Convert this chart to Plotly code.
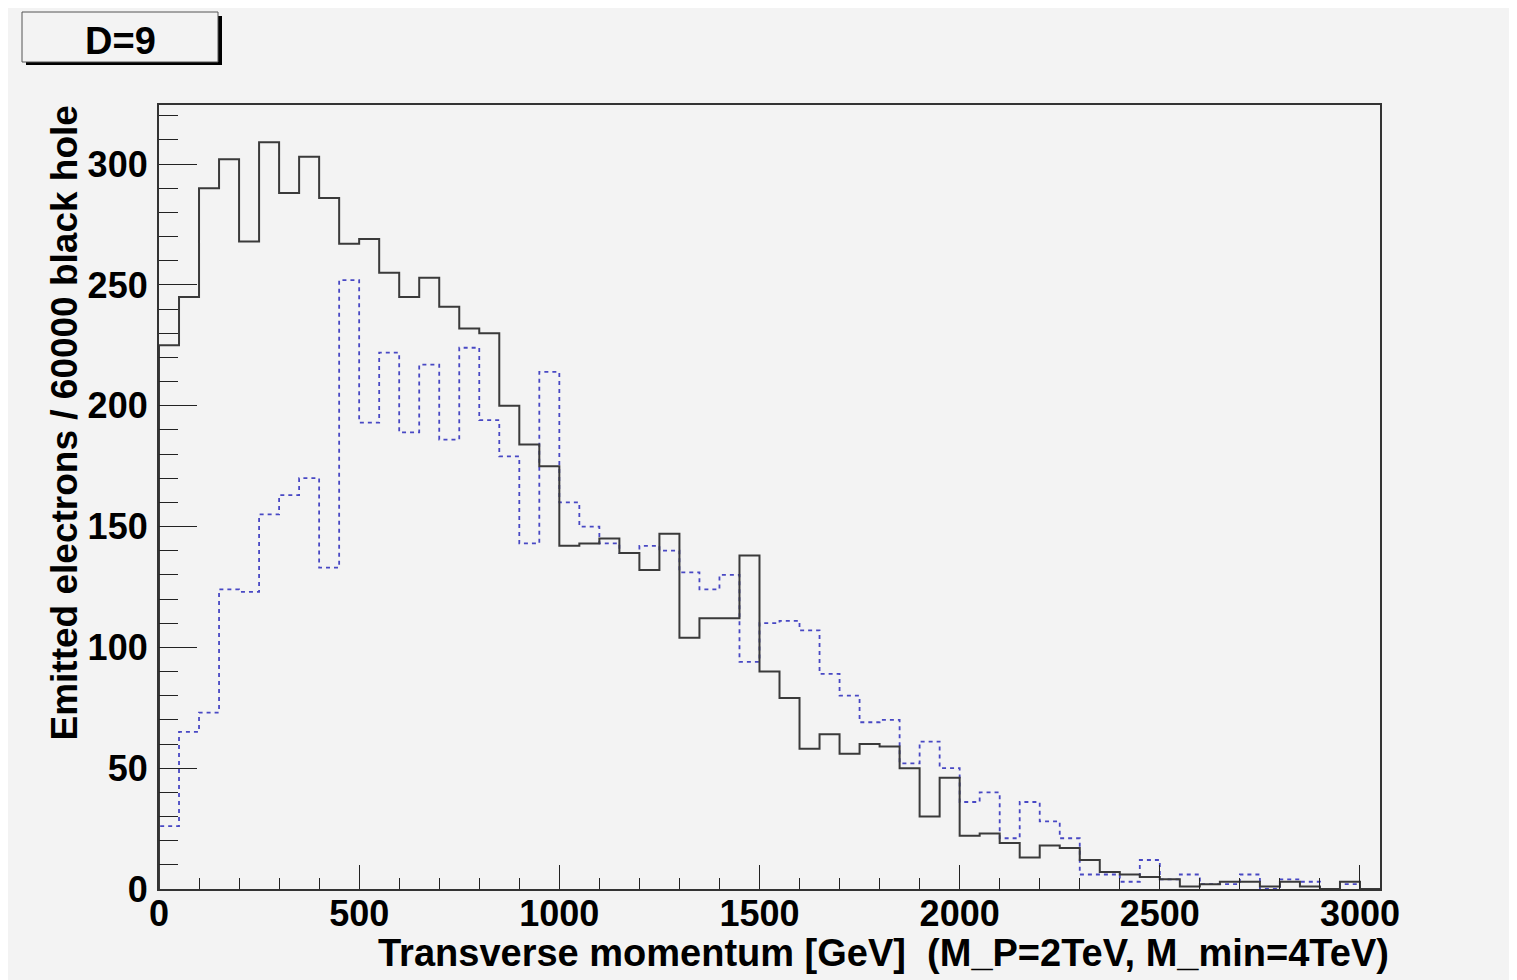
import numpy as np
import plotly.graph_objects as go

# ---- data (50 GeV bins, 0 .. 3050 GeV) ----
bin_width = 50
x_max = 3050
solid_counts = [225, 245, 290, 302, 268, 309, 288, 303, 286, 267,
                269, 255, 245, 253, 241, 232, 230, 200, 184, 175,
                142, 143, 145, 139, 132, 147, 104, 112, 112, 138,
                90, 79, 58, 64, 56, 60, 59, 50, 30, 46,
                22, 23, 19, 13, 18, 17, 12, 7, 6, 5,
                4, 1, 2, 3, 3, 1, 3, 1, 0, 3, 0]
dashed_counts = [26, 65, 73, 124, 123, 155, 163, 170, 133, 252,
                 193, 222, 189, 217, 186, 224, 194, 179, 143, 214,
                 160, 150, 143, 139, 142, 140, 131, 124, 130, 94,
                 110, 111, 107, 89, 80, 69, 70, 52, 61, 50,
                 36, 40, 21, 36, 28, 21, 6, 6, 3, 12,
                 4, 6, 2, 2, 6, 0, 4, 3, 0, 2, 0]
x_title = "Transverse momentum [GeV]\u00a0\u00a0(M_P=2TeV, M_min=4TeV)"
y_title = "Emitted electrons / 60000 black hole"
label_text = "D=9"

edges = np.arange(0, x_max + bin_width, bin_width)


def step_xy(counts):
    c = np.asarray(counts, dtype=float)
    xs = np.concatenate([[edges[0]], edges, [edges[-1]]])
    ys = np.concatenate([[0.0], c, [c[-1], 0.0]])
    return xs, ys


y_top = 1.05 * max(max(solid_counts), max(dashed_counts))

# page offset from default body margin
OFF = 8
W, H = 1517 - OFF, 980 - OFF
# plot area in page pixels
L, R, T, B = 159, 1380, 105, 889

fig = go.Figure()
xs, ys = step_xy(dashed_counts)
fig.add_trace(go.Scatter(x=xs, y=ys, mode="lines", line_shape="hv",
                         line=dict(color="#4848c4", width=1.8, dash="4px,4px"),
                         showlegend=False, hoverinfo="skip"))
xs, ys = step_xy(solid_counts)
fig.add_trace(go.Scatter(x=xs, y=ys, mode="lines", line_shape="hv",
                         line=dict(color="#3a3a3a", width=2),
                         showlegend=False, hoverinfo="skip"))

font_family = "Liberation Sans, Arial, Helvetica, sans-serif"
bg = "#f3f3f3"
tick_size = 36


def px_x(p):
    return (p - L) / (R - L)


def px_y(p):
    return (B - p) / (B - T)


fig.update_layout(
    width=W, height=H,
    margin=dict(l=L - OFF, r=W - (R - OFF), t=T - OFF, b=H - (B - OFF)),
    paper_bgcolor=bg, plot_bgcolor=bg,
    font=dict(family=font_family, size=tick_size, color="black"),
    xaxis=dict(range=[0, x_max], dtick=500, tick0=0,
               ticks="inside", ticklen=24, tickcolor="#222", tickwidth=1.3,
               minor=dict(dtick=100, ticks="inside", ticklen=11, tickcolor="#222", tickwidth=1.3),
               showline=True, linecolor="#333", linewidth=2.2, mirror=True,
               showgrid=False, zeroline=False,
               tickfont=dict(family=font_family, size=tick_size, color="black", weight="bold"),
               ticklabelstandoff=-8),
    yaxis=dict(range=[0, y_top], dtick=50, tick0=0,
               ticks="inside", ticklen=38, tickcolor="#222", tickwidth=1.3,
               minor=dict(dtick=10, ticks="inside", ticklen=19, tickcolor="#222", tickwidth=1.3),
               showline=True, linecolor="#333", linewidth=2.2, mirror=True,
               showgrid=False, zeroline=False,
               tickfont=dict(family=font_family, size=tick_size, color="black", weight="bold"),
               ticklabelstandoff=2),
)

# axis titles (ROOT style, right/top aligned)
fig.add_annotation(text=x_title, xref="paper", yref="paper",
                   x=px_x(1391), y=px_y(953), xanchor="right", yanchor="middle",
                   showarrow=False,
                   font=dict(family=font_family, size=38, color="black", weight="bold"))
fig.add_annotation(text=y_title, xref="paper", yref="paper",
                   x=px_x(64), y=px_y(104), xanchor="center", yanchor="top",
                   textangle=-90, showarrow=False,
                   font=dict(family=font_family, size=37, color="black", weight="bold"))

# label box with shadow
fig.add_shape(type="rect", xref="paper", yref="paper",
              x0=px_x(26), x1=px_x(222), y0=px_y(65), y1=px_y(16),
              fillcolor="black", line=dict(width=0), layer="above")
fig.add_shape(type="rect", xref="paper", yref="paper",
              x0=px_x(22), x1=px_x(218), y0=px_y(62), y1=px_y(12),
              fillcolor=bg, line=dict(color="#555", width=1), layer="above")
fig.add_annotation(text=label_text, xref="paper", yref="paper",
                   x=px_x(120), y=px_y(41), xanchor="center", yanchor="middle",
                   showarrow=False,
                   font=dict(family=font_family, size=38, color="black", weight="bold"))

fig.write_html("out.html")
